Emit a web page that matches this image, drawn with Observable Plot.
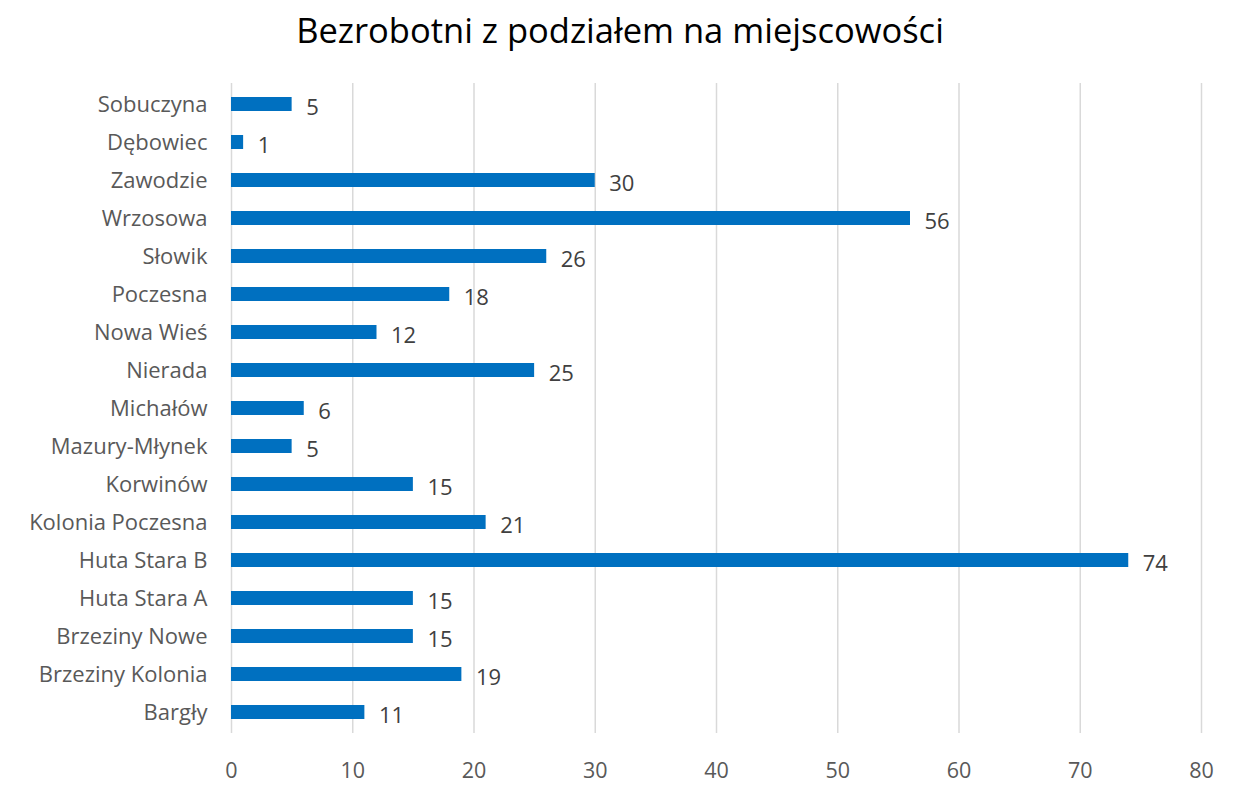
<!DOCTYPE html>
<html>
<head>
<meta charset="utf-8">
<script src="https://cdn.jsdelivr.net/npm/d3@7"></script>
<script src="https://cdn.jsdelivr.net/npm/@observablehq/plot@0.6"></script>
<style>
  html, body { margin: 0; padding: 0; background: #fff; }
  #title { height: 62px; line-height: 60px; text-align: center; font-family: "Open Sans", sans-serif; font-size: 34.5px; color: #000; }
  #chart svg { display: block; }
</style>
</head>
<body>
<div id="title">Bezrobotni z podziałem na miejscowości</div>
<div id="chart"></div>
<script>
const categories = ["Sobuczyna", "Dębowiec", "Zawodzie", "Wrzosowa", "Słowik", "Poczesna", "Nowa Wieś", "Nierada", "Michałów", "Mazury-Młynek", "Korwinów", "Kolonia Poczesna", "Huta Stara B", "Huta Stara A", "Brzeziny Nowe", "Brzeziny Kolonia", "Bargły"];
const values = [5, 1, 30, 56, 26, 18, 12, 25, 6, 5, 15, 21, 74, 15, 15, 19, 11];
const xTicks = [0, 10, 20, 30, 40, 50, 60, 70, 80];

const data = categories.map((c, i) => ({ name: c, value: values[i] }));

const chart = Plot.plot({
  width: 1240,
  height: 731,
  marginTop: 21,
  marginBottom: 60,
  marginLeft: 231,
  marginRight: 39,
  style: { fontFamily: "Open Sans, sans-serif", fontSize: "22px", color: "#595959", background: "#fff" },
  x: { domain: [0, 80], ticks: xTicks, label: null },
  y: { domain: categories, paddingInner: 0.63, paddingOuter: 0.315, label: null },
  marks: [
    Plot.ruleX(xTicks, { stroke: "#d9d9d9", strokeWidth: 1.5 }),
    Plot.barX(data, { x: "value", y: "name", fill: "#0070C0" }),
    Plot.text(data, { x: "value", y: "name", text: d => String(d.value), textAnchor: "start", dx: 14, dy: 3, fill: "#404040", fontSize: 22 }),
    Plot.axisX({ ticks: xTicks, tickSize: 0, tickPadding: 29, fontSize: 21.5, fill: "#595959", label: null }),
    Plot.axisY({ tickSize: 0, tickPadding: 24, fontSize: 22, fill: "#595959", label: null })
  ]
});
document.getElementById("chart").appendChild(chart);
</script>
</body>
</html>
